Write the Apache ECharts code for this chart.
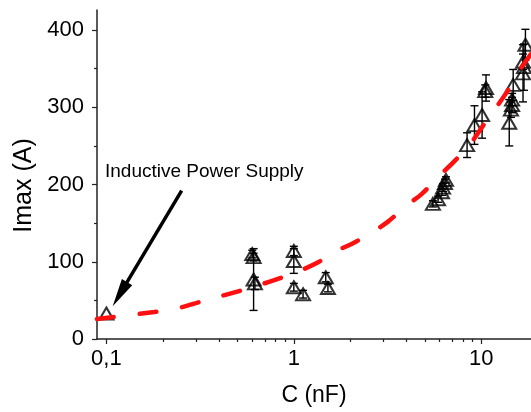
<!DOCTYPE html>
<html>
<head>
<meta charset="utf-8">
<script src="https://cdn.jsdelivr.net/npm/echarts@6/dist/echarts.min.js"></script>
<style>
  html, body { margin: 0; padding: 0; background: #fff; }
  #chart { width: 531px; height: 412px; }
</style>
</head>
<body>
<div id="chart"></div>
<script>
// measured points (C in nF, Imax in A, error in A)
const capC = [0.1, 0.6, 0.61, 0.61, 0.62, 1.0, 1.0, 1.0, 1.12, 1.48, 1.52,
  5.52, 5.88, 6.17, 6.25, 6.4, 6.48, 8.4, 9.2, 10.1, 10.5, 10.6,
  14.1, 14.4, 14.6, 14.6, 14.8, 16.7, 16.9, 16.7, 17.2]
const imax = [33, 110, 106, 77, 72, 114, 101, 67, 58, 80, 66,
  175, 181, 190, 196, 202, 206, 251, 277, 290, 321, 325,
  280, 297, 303, 310, 329, 344, 352, 359, 381]
const imaxErr = [0, 5, 5, 40, 8, 6, 16, 5, 5, 6, 5,
  4, 4, 4, 5, 5, 4, 16, 25, 30, 8, 17,
  30, 10, 10, 8, 20, 37, 30, 10, 20]

// fitted curve (red dashed)
const fitC = [0.089, 0.18, 0.25, 0.315, 0.58, 0.92, 1.12, 1.34, 1.76, 2.07, 2.61,
  3.18, 3.96, 4.82, 6.02, 7.24, 8.82, 10.2, 12.1, 13.7, 15.7, 18.4]
const fitI = [26, 35, 41, 48, 66, 82, 90, 99, 116, 124, 138,
  152, 172, 188, 212, 231, 254, 276, 301, 320, 345, 369]

// ticks
const xMajor = [0.1, 1, 10]
const xMinor = [0.2, 0.3, 0.4, 0.5, 0.6, 0.7, 0.8, 0.9, 2, 3, 4, 5, 6, 7, 8, 9]
const yMajor = [0, 100, 200, 300, 400]
const yMinor = [50, 150, 250, 350]

const xMin = 0.0891
const xMax = 18.42
const font = '"Liberation Sans", Arial, sans-serif'

const chart = echarts.init(document.getElementById('chart'))

const pointData = capC.map((c, i) => [c, imax[i]])
const errData = []
for (let i = 0; i < capC.length; i++) {
  if (imaxErr[i] > 0) {
    errData.push([capC[i], imax[i] - imaxErr[i], imax[i] + imaxErr[i]])
  }
}

const axisLine = {show: true, lineStyle: {color: '#222', width: 1.5}}

const option = {
  animation: false,
  grid: {left: 97, right: 0, top: 10, bottom: 72},
  xAxis: [
    {
      type: 'log',
      logBase: 10,
      min: xMin,
      max: xMax,
      position: 'bottom',
      name: 'C (nF)',
      nameLocation: 'middle',
      nameGap: 45,
      nameTextStyle: {fontFamily: font, fontSize: 23, color: '#000'},
      axisLine: axisLine,
      axisTick: {show: true, length: 5, customValues: xMajor, lineStyle: {color: '#222', width: 1.2}},
      axisLabel: {
        customValues: xMajor,
        margin: 9,
        fontFamily: font,
        fontSize: 22,
        color: '#000',
        formatter: (v) => String(v).replace('.', ',')
      },
      splitLine: {show: false}
    },
    {
      type: 'log',
      logBase: 10,
      min: xMin,
      max: xMax,
      position: 'bottom',
      axisLine: {show: false},
      axisTick: {show: true, length: 3, customValues: xMinor, lineStyle: {color: '#222', width: 1.2}},
      axisLabel: {show: false},
      splitLine: {show: false}
    }
  ],
  yAxis: [
    {
      type: 'value',
      min: 0,
      max: 426,
      position: 'left',
      name: 'Imax (A)',
      nameLocation: 'middle',
      nameGap: 58,
      nameTextStyle: {fontFamily: font, fontSize: 25, color: '#000', padding: [0, 22, 0, 0]},
      axisLine: axisLine,
      axisTick: {show: true, length: 5, customValues: yMajor, lineStyle: {color: '#222', width: 1.2}},
      axisLabel: {customValues: yMajor, margin: 13, fontFamily: font, fontSize: 22, color: '#000'},
      splitLine: {show: false}
    },
    {
      type: 'value',
      min: 0,
      max: 426,
      position: 'left',
      axisLine: {show: false},
      axisTick: {show: true, length: 3, customValues: yMinor, lineStyle: {color: '#222', width: 1.2}},
      axisLabel: {show: false},
      splitLine: {show: false}
    }
  ],
  graphic: [
    {
      type: 'text',
      left: 105,
      top: 162,
      style: {text: 'Inductive Power Supply', font: '19px ' + font, fill: '#000'}
    }
  ],
  series: [
    {
      // error bars
      type: 'custom',
      xAxisIndex: 0,
      yAxisIndex: 0,
      data: errData,
      z: 3,
      renderItem: (params, api) => {
        const lo = api.coord([api.value(0), api.value(1)])
        const hi = api.coord([api.value(0), api.value(2)])
        const w = 4
        const style = {stroke: '#000', lineWidth: 1.4}
        return {
          type: 'group',
          children: [
            {type: 'line', shape: {x1: lo[0], y1: lo[1], x2: hi[0], y2: hi[1]}, style: style},
            {type: 'line', shape: {x1: lo[0] - w, y1: lo[1], x2: lo[0] + w, y2: lo[1]}, style: style},
            {type: 'line', shape: {x1: hi[0] - w, y1: hi[1], x2: hi[0] + w, y2: hi[1]}, style: style}
          ]
        }
      }
    },
    {
      type: 'scatter',
      xAxisIndex: 0,
      yAxisIndex: 0,
      data: pointData,
      symbol: 'triangle',
      symbolSize: [14, 12],
      z: 4,
      itemStyle: {color: 'rgba(0,0,0,0)', borderColor: '#000', borderWidth: 2},
      markLine: {
        silent: true,
        symbol: ['none', 'triangle'],
        symbolSize: [12, 28],
        label: {show: false},
        lineStyle: {color: '#000', width: 3.5, type: 'solid'},
        data: [[{coord: [0.252, 192]}, {coord: [0.118, 58]}]]
      }
    },
    {
      type: 'line',
      xAxisIndex: 0,
      yAxisIndex: 0,
      data: fitC.map((c, i) => [c, fitI[i]]),
      smooth: 0.3,
      showSymbol: false,
      z: 5,
      lineStyle: {color: '#ff1010', width: 4.5, type: [17, 26], cap: 'round'}
    }
  ]
}

chart.setOption(option)
</script>
</body>
</html>
